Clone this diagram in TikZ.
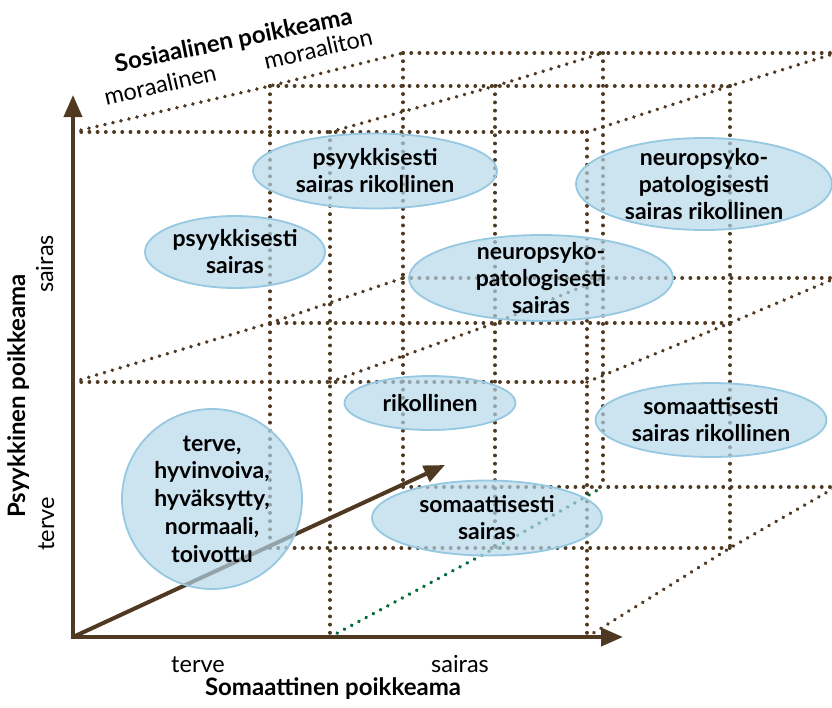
\documentclass[tikz,border=0pt]{standalone}
\usepackage{fontspec}
\setmainfont{Lato}
\usetikzlibrary{arrows.meta,shapes.geometric}
\definecolor{brn}{RGB}{80,57,33}
\definecolor{grn}{RGB}{0,105,55}
\definecolor{ellfill}{RGB}{180,214,233}
\definecolor{elldraw}{RGB}{150,200,225}
\begin{document}
\begin{tikzpicture}[x=1pt,y=-1pt,
  grid/.style={draw=brn, line width=3.9pt, line cap=round, dash pattern=on 0.01pt off 8.2pt},
  ggrid/.style={grid, draw=grn},
  axis/.style={draw=brn, line width=4pt, -{Triangle[length=22pt,width=18pt]}},
  blob/.style={ellipse, draw=elldraw, line width=1.8pt, fill=ellfill, fill opacity=0.68, text opacity=1, inner sep=0pt},
  btxt/.style={align=center, text=black, font=\bfseries\fontsize{23}{27}\selectfont, inner sep=0pt},
  ctxt/.style={btxt, font=\bfseries\fontsize{23}{27.7}\selectfont},
  lab/.style={font=\fontsize{23.5}{26}\selectfont, inner sep=0pt},
  ttl/.style={font=\bfseries\fontsize{24}{26}\selectfont, inner sep=0pt}]
\useasboundingbox (0,0) rectangle (832,707);
% front face
\coordinate (F00) at (73,637);  \coordinate (F10) at (330,637); \coordinate (F20) at (587,637);
\coordinate (F01) at (73,382);  \coordinate (F11) at (330,382); \coordinate (F21) at (587,382);
\coordinate (F02) at (73,132);  \coordinate (F12) at (330,132); \coordinate (F22) at (587,132);
% middle depth
\coordinate (M00) at (270,548); \coordinate (M10) at (495,548); \coordinate (M20) at (730,548);
\coordinate (M01) at (270,323); \coordinate (M11) at (495,323); \coordinate (M21) at (730,323);
\coordinate (M02) at (270,86);  \coordinate (M12) at (495,86);  \coordinate (M22) at (730,86);
% back
\coordinate (B00) at (403,487); \coordinate (B10) at (603,487); \coordinate (B20) at (836,487);
\coordinate (B01) at (403,278); \coordinate (B11) at (603,278); \coordinate (B21) at (836,278);
\coordinate (B02) at (403,53);  \coordinate (B12) at (603,53);  \coordinate (B22) at (836,53);
% horizontal grid lines
\draw[grid] (F02) -- (F12) -- (F22);
\draw[grid] (F01) -- (F11) -- (F21);
\draw[grid] (M02) -- (M12) -- (M22);
\draw[grid] (M01) -- (M11) -- (M21);
\draw[grid] (M00) -- (M10) -- (M20);
\draw[grid] (B02) -- (B12) -- (B22);
\draw[grid] (B01) -- (B11) -- (B21);
\draw[grid] (B00) -- (B10) -- (B20);
% vertical grid lines
\draw[grid] (F12) -- (F10);
\draw[grid] (F22) -- (F20);
\draw[grid] (M02) -- (M00);
\draw[grid] (M12) -- (M10);
\draw[grid] (M22) -- (M20);
\draw[grid] (B02) -- (B00);
\draw[grid] (B12) -- (B10);
\draw[grid] (B22) -- (B20);
% depth grid lines
\draw[grid] (F02) -- (M02) -- (B02);
\draw[grid] (F12) -- (M12) -- (B12);
\draw[grid] (F22) -- (M22) -- (B22);
\draw[grid] (F01) -- (M01) -- (B01);
\draw[grid] (F11) -- (M11) -- (B11);
\draw[grid] (F21) -- (M21) -- (B21);
\draw[grid] (F20) -- (M20) -- (B20);
\draw[ggrid] (F10) -- (M10) -- (B10);
% axes
\coordinate (xt) at (623,637);
\coordinate (yt) at (73,95);
\coordinate (zt) at (445,465);
\draw[axis] ([yshift=2pt]F00) -- (yt);
\draw[axis] ([xshift=-2pt]F00) -- (xt);
\draw[axis, -{Triangle[length=21pt,width=17pt]}] (F00) -- (zt);
% ellipses
\node[blob, minimum width=244pt, minimum height=75pt, label={[btxt]center:{psyykkisesti\\sairas rikollinen}}] (e1) at (375,171) {};
\node[blob, minimum width=256pt, minimum height=92pt, label={[btxt]center:{neuropsyko-\\patologisesti\\sairas rikollinen}}] (e2) at (704,184) {};
\node[blob, minimum width=180pt, minimum height=72pt, label={[btxt]center:{psyykkisesti\\sairas}}] (e3) at (235,252) {};
\node[blob, minimum width=264pt, minimum height=86pt, label={[btxt]center:{neuropsyko-\\patologisesti\\sairas}}] (e4) at (541,278) {};
\node[blob, minimum width=171pt, minimum height=54pt, label={[btxt]center:{rikollinen}}] (e5) at (430,403) {};
\node[blob, minimum width=231pt, minimum height=74pt, label={[btxt]center:{somaattisesti\\sairas rikollinen}}] (e6) at (711,420) {};
\node[blob, minimum width=230pt, minimum height=75pt, label={[btxt]center:{somaattisesti\\sairas}}] (e7) at (487,518) {};
\node[blob, minimum width=180pt, minimum height=180pt, label={[ctxt]center:{terve,\\hyvinvoiva,\\hyväksytty,\\normaali,\\toivottu}}] (e8) at (212,499) {};
% labels
\node[lab, anchor=base] (lxt) at (198,672) {terve};
\node[lab, anchor=base] (lxs) at (460,672) {sairas};
\node[ttl, anchor=base] (lx) at (333,695) {Somaattinen poikkeama};
\node[lab, anchor=base, rotate=90] (lys) at (53,264) {sairas};
\node[lab, anchor=base, rotate=90] (lyt) at (54,524) {terve};
\node[ttl, anchor=base, rotate=90] (ly) at (25,396) {Psyykkinen poikkeama};
\node[ttl, anchor=base, rotate=11.5] (lz) at (235,48) {Sosiaalinen poikkeama};
\node[lab, anchor=base, rotate=13] (lzm) at (162,93) {moraalinen};
\node[lab, anchor=base, rotate=13] (lzi) at (320,57) {moraaliton};
\end{tikzpicture}
\end{document}
